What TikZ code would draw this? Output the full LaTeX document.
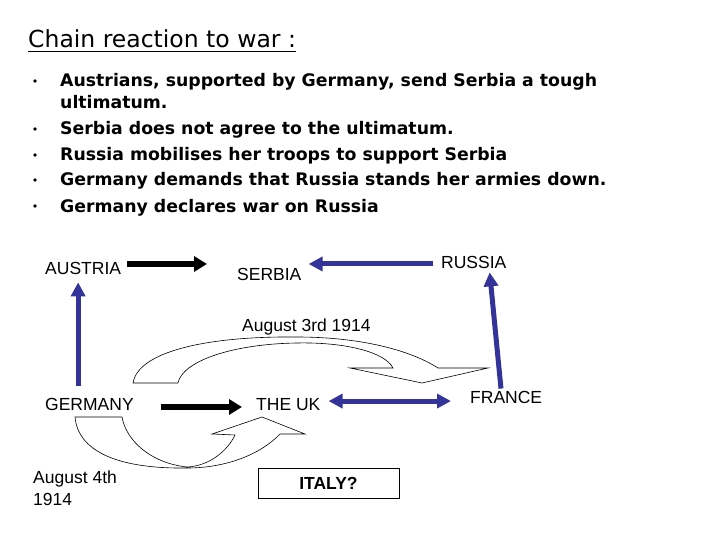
\documentclass[tikz,border=0pt]{standalone}
\usepackage{fontspec}
\usetikzlibrary{arrows.meta}
\newfontfamily\arialfont{Liberation Sans}
\newfontfamily\handfont{DejaVu Sans}
\definecolor{warblue}{RGB}{51,51,153}

\begin{document}
\begin{tikzpicture}[x=1pt,y=-1pt,
    lbl/.style={font=\arialfont\fontsize{17.5}{22}\selectfont,inner sep=0pt,anchor=base west},
    txt/.style={font=\handfont\bfseries\fontsize{17.3}{20}\selectfont,inner sep=0pt,anchor=base west},
    dot/.style={circle,fill,inner sep=1.4pt},
    blk/.style={line width=6.5pt,-{Triangle[length=13pt,width=15pt]}},
    blu/.style={warblue,line width=5pt,-{Triangle[length=14pt,width=14pt]}},
    bendarrow/.style={draw,line width=0.6pt,fill=white}]
    \useasboundingbox (0,0) rectangle (720,540);

    % Title
    \node[inner sep=0pt,anchor=base west,font=\handfont\fontsize{23.5}{26}\selectfont]
        (title) at (28,48) {Chain reaction to war :};
    \draw[line width=1pt] ([yshift=-4pt]title.base west) -- ([yshift=-4pt]title.base east);

    % Bullet list
    \foreach \y [count=\i] in {87,135,161,186,212}
        \node[dot] (dot\i) at (35,\y-6) {};
    \node[txt] (line1) at (60,87) {Austrians, supported by Germany, send Serbia a tough};
    \node[txt] (line1b) at (60,109) {ultimatum.};
    \node[txt] (line2) at (60,135) {Serbia does not agree to the ultimatum.};
    \node[txt] (line3) at (60,161) {Russia mobilises her troops to support Serbia};
    \node[txt] (line4) at (60,186) {Germany demands that Russia stands her armies down.};
    \node[txt] (line5) at (60,212) {Germany declares war on Russia};

    % Countries
    \node[lbl] (austria) at (45,274) {AUSTRIA};
    \node[lbl] (serbia) at (237,280) {SERBIA};
    \node[lbl] (russia) at (441,268) {RUSSIA};
    \node[lbl] (germany) at (45,410) {GERMANY};
    \node[lbl] (uk) at (256,410) {THE UK};
    \node[lbl] (france) at (470,403) {FRANCE};
    \node[draw,line width=0.8pt,minimum width=141pt,minimum height=30pt,inner sep=0pt,
          font=\arialfont\bfseries\fontsize{17.5}{22}\selectfont] (italy) at (328.5,483) {ITALY?};

    % Dates
    \node[lbl] (aug3) at (242,331) {August 3rd 1914};
    \node[lbl,anchor=north west,align=left] (aug4) at (33,470.5) {August 4th\\1914};

    % Curved arrows
    \draw[bendarrow] (133,383) -- (178,383)
        .. controls (182,362) and (230,344) .. (297,343)
        .. controls (345,342) and (385,352) .. (393,368)
        -- (350,368) -- (422,383) -- (488,368) -- (438,368)
        .. controls (410,350) and (360,337) .. (297,337)
        .. controls (205,336) and (138,352) .. (133,383) -- cycle;
    \draw[bendarrow] (75,417) -- (122,417)
        .. controls (126,440) and (150,463) .. (187,467)
        .. controls (210,466) and (228,450) .. (235,435)
        -- (212,434) -- (262,417) -- (305,434) -- (280,434)
        .. controls (260,455) and (225,468) .. (187,468)
        .. controls (115,469) and (78,450) .. (75,417) -- cycle;

    % Alliances
    \draw[blk,shorten <=6pt,shorten >=30pt] ([yshift=4pt]austria.east) -- ([yshift=4pt]austria.east -| serbia.west);
    \draw[blu,shorten <=8pt,shorten >=7pt] ([yshift=-2pt]russia.west) -- ([yshift=-2pt]russia.west -| serbia.east);
    \draw[blu,shorten <=12pt,shorten >=8pt] ([xshift=-5pt]austria.south |- germany.north) -- ([xshift=-5pt]austria.south);
    \draw[blu,shorten <=2pt,shorten >=4pt] ([xshift=-5pt]france.north) -- ([xshift=15.5pt]russia.south);
    \draw[blk,shorten <=27pt,shorten >=14pt] ([yshift=-3pt]germany.east) -- ([yshift=-3pt]germany.east -| uk.west);
    \draw[blu,{Triangle[length=14pt,width=14pt]}-{Triangle[length=14pt,width=14pt]},shorten <=8pt,shorten >=19pt]
        ([yshift=3pt]uk.east) -- ([yshift=3pt]uk.east -| france.west);
\end{tikzpicture}
\end{document}
